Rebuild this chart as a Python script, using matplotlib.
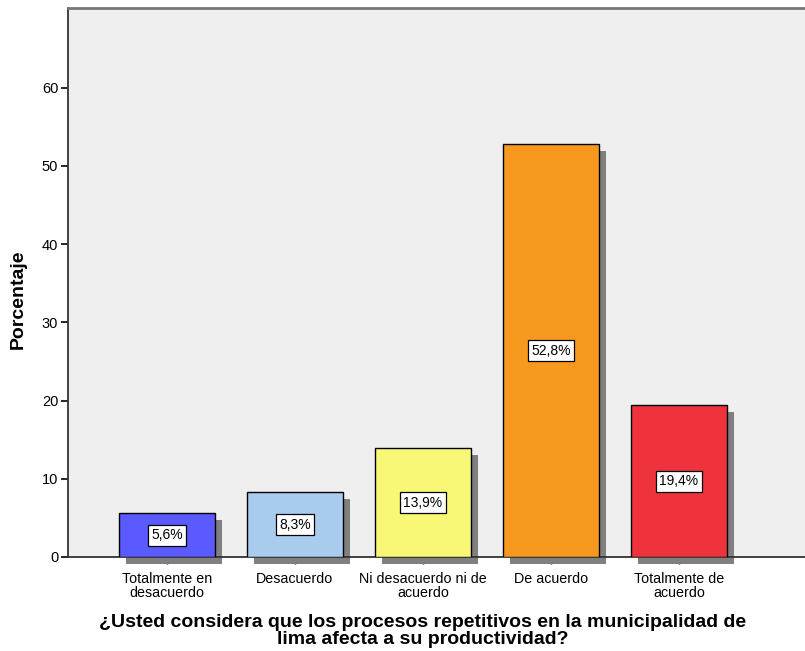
import numpy as np
from matplotlib import pyplot as plt
from matplotlib.patches import Rectangle

categories = [
    "Totalmente en\ndesacuerdo",
    "Desacuerdo",
    "Ni desacuerdo ni de\nacuerdo",
    "De acuerdo",
    "Totalmente de\nacuerdo",
]
percentages = [5.6, 8.3, 13.9, 52.8, 19.4]
bar_colors = ["#5a5aff", "#a8cbee", "#f9f776", "#f8991f", "#ef333d"]
y_ticks = [0, 10, 20, 30, 40, 50, 60]

plt.rcParams["font.family"] = ["Liberation Sans", "DejaVu Sans"]

fig = plt.figure(figsize=(8.05, 6.51), dpi=100)
ax = fig.add_axes([68 / 805, 94 / 651, 737 / 805, 549 / 651])
ax.set_facecolor("#efefef")

x = np.arange(len(categories))
width = 0.75
# shadow offset in data units (about 7 px each way)
dx, dy = 0.055, 0.9

for xi, val, col in zip(x, percentages, bar_colors):
    ax.add_patch(
        Rectangle(
            (xi - width / 2 + dx, -dy), width, val, facecolor="#808080",
            edgecolor="none", zorder=2, clip_on=False,
        )
    )
    ax.add_patch(
        Rectangle(
            (xi - width / 2, 0), width, val, facecolor=col,
            edgecolor="black", linewidth=1.0, zorder=3,
        )
    )
    ax.text(
        xi, val / 2, f"{val:.1f}%".replace(".", ","), ha="center", va="center",
        fontsize=10, zorder=4,
        bbox=dict(boxstyle="square,pad=0.25", facecolor="white", edgecolor="black", linewidth=0.9),
    )

ax.set_xlim(-0.773, 4.985)
ax.set_ylim(0, 70.2)
ax.set_yticks(y_ticks)
ax.set_xticks(x)
ax.set_xticklabels(categories, fontsize=10.3, linespacing=1.0)
ax.tick_params(axis="y", labelsize=10.5, length=5, width=1.2, direction="out", pad=2)
ax.tick_params(axis="x", length=5, width=1.0, direction="out", pad=6)

ax.spines["right"].set_visible(False)
ax.spines["top"].set_color("#777777")
ax.spines["top"].set_linewidth(2)
ax.spines["left"].set_color("#333333")
ax.spines["left"].set_linewidth(1.3)
ax.spines["bottom"].set_color("#333333")
ax.spines["bottom"].set_linewidth(1.3)

ax.set_ylabel("Porcentaje", fontsize=14, fontweight="bold", va="center")
ax.yaxis.set_label_coords(-0.068, 0.47)
fig.text(
    423 / 805, 1 - 631 / 651,
    "¿Usted considera que los procesos repetitivos en la municipalidad de\nlima afecta a su productividad?",
    ha="center", va="center", fontsize=14, fontweight="bold", linespacing=1.05,
)

fig.savefig("out.png", dpi=100)
